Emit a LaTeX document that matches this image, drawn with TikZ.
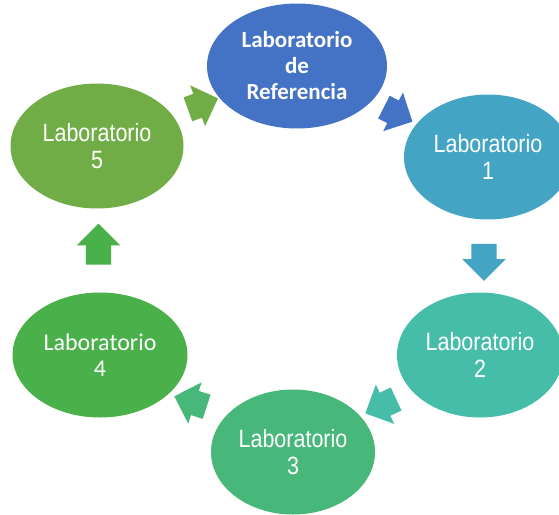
\documentclass[tikz,border=0pt]{standalone}
\usepackage{fontspec}
\newfontfamily\arialn{Liberation Sans}[FakeStretch=0.86]
\newfontfamily\calibri{Carlito}
\usetikzlibrary{calc}
\usetikzlibrary{shapes.geometric}
\usetikzlibrary{shapes.arrows}

\definecolor{colref}{HTML}{4472C4}
\definecolor{colA}{HTML}{43A4C4}
\definecolor{colB}{HTML}{45BDA9}
\definecolor{colC}{HTML}{47B77A}
\definecolor{colD}{HTML}{4AB04A}
\definecolor{colE}{HTML}{71AD47}

\begin{document}
\begin{tikzpicture}[x=1pt,y=-1pt,
  lab node/.style={ellipse,draw=none,inner sep=0pt,text=white,align=center,
  font=\arialn\fontsize{25}{27}\selectfont,minimum height=125pt},
  flecha/.style={single arrow,draw=none,inner xsep=0pt,inner ysep=12.5pt,
  single arrow head extend=9pt,minimum height=34pt}]
  \useasboundingbox (0,0) rectangle (559,514);

  \node[lab node,fill=colref,minimum width=180pt,
    font=\calibri\bfseries\fontsize{23}{26}\selectfont] (REF) at (297,66) {Laboratorio\\de\\Referencia};
  \node[lab node,fill=colA,minimum width=168pt] (L1) at (488,157) {Laboratorio\\1};
  \node[lab node,fill=colB,minimum width=166pt] (L2) at (480,355) {Laboratorio\\2};
  \node[lab node,fill=colC,minimum width=164pt] (L3) at (293,452) {Laboratorio\\3};
  \node[lab node,fill=colD,minimum width=175pt,
    font=\calibri\fontsize{24}{26}\selectfont] (L4) at (100,355) {Laboratorio\\4};
  \node[lab node,fill=colE,minimum width=173pt] (L5) at (97,146) {Laboratorio\\5};

  % flechas entre laboratorios, en el punto medio de cada par
  \node[flecha,fill=colE,rotate=20,minimum height=32pt] (F51) at ($(L5)!0.5!(REF)$) {};
  \node[flecha,fill=colref,rotate=-27,minimum height=32pt] (F12) at ($(REF)!0.5!(L1)$) {};
  \node[flecha,fill=colA,rotate=-90,minimum height=37pt] (F23) at ($(L1)!0.5!(L2)$) {};
  \node[flecha,fill=colB,rotate=-155] (F34) at ($(L2)!0.5!(L3)$) {};
  \node[flecha,fill=colC,rotate=162] (F45) at ($(L3)!0.5!(L4)$) {};
  \node[flecha,fill=colD,rotate=90,minimum height=41pt] (F56) at ($(L4)!0.5!(L5)$) {};
\end{tikzpicture}
\end{document}
